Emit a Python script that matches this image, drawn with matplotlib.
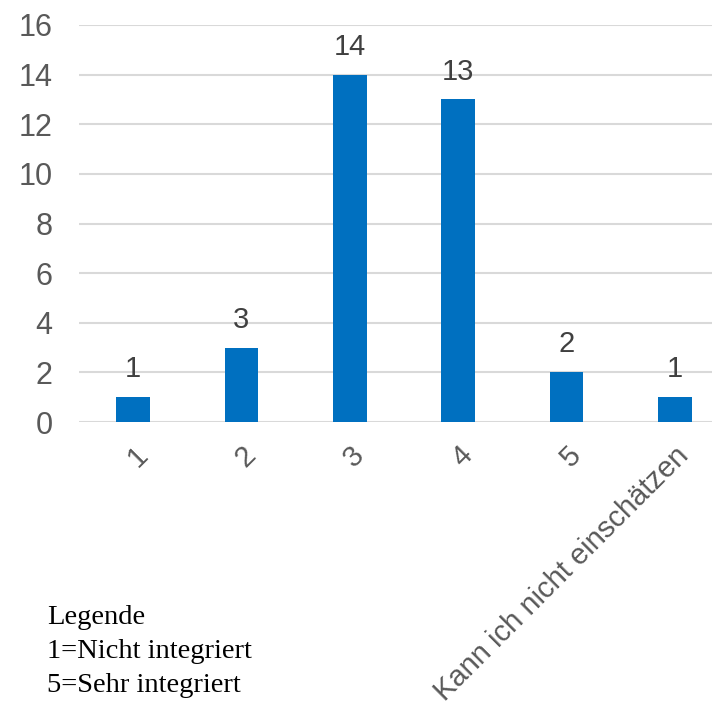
import matplotlib.pyplot as plt

CATEGORIES = ["1", "2", "3", "4", "5", "Kann ich nicht einschätzen"]
COUNTS = [1, 3, 14, 13, 2, 1]
Y_TICKS = [0, 2, 4, 6, 8, 10, 12, 14, 16]
LEGEND_LINES = ["Legende", "1=Nicht integriert", "5=Sehr integriert"]

W, H = 712, 705
fig = plt.figure(figsize=(W / 100, H / 100), dpi=100)
# axis runs past the right edge of the picture, like the original export
ax = fig.add_axes([79 / W, 1 - 422 / H, 650 / W, 397 / H])

x = list(range(len(CATEGORIES)))
ax.bar(x, COUNTS, width=0.31, color="#0070C0", zorder=3)
for xi, v in zip(x, COUNTS):
    ax.annotate(str(v), (xi, v), xytext=(0, 10), textcoords="offset points",
                ha="center", va="bottom", fontsize=21, color="#404040",
                family="Liberation Sans")

ax.set_xlim(-0.5, len(CATEGORIES) - 0.5)
ax.set_ylim(0, 16)
ax.set_yticks(Y_TICKS)
ax.grid(axis="y", color="#d9d9d9", linewidth=1.5, zorder=0)
ax.set_axisbelow(True)
for s in ax.spines.values():
    s.set_visible(False)
ax.tick_params(axis="both", length=0, colors="#595959", labelsize=22)
ax.tick_params(axis="y", pad=19)
for lab in ax.get_yticklabels():
    lab.set_family("Liberation Sans")

ax.set_xticks(x)
ax.set_xticklabels(CATEGORIES, rotation=45, ha="right", rotation_mode="anchor",
                   family="Liberation Sans", fontsize=21)
ax.tick_params(axis="x", pad=14)

for i, line in enumerate(LEGEND_LINES):
    fig.text(47 / W, 1 - (617 + 34 * i) / H, line, ha="left", va="center",
             fontsize=20.5, family="Liberation Serif", color="black")

fig.savefig("out.png", dpi=100)
